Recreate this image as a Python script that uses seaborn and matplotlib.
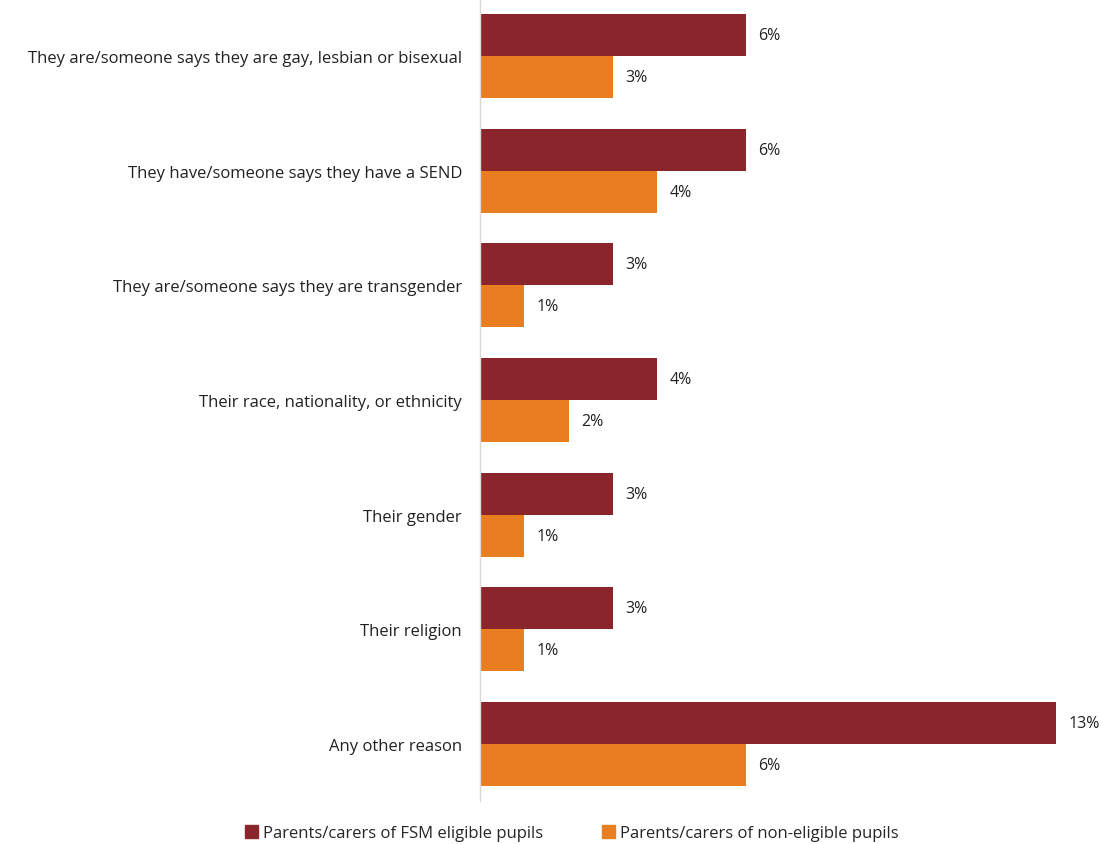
import pandas as pd
import numpy as np
import matplotlib
matplotlib.use("Agg")
import matplotlib.pyplot as plt
import seaborn as sns

reasons = [
    "They are/someone says they are gay, lesbian or bisexual",
    "They have/someone says they have a SEND",
    "They are/someone says they are transgender",
    "Their race, nationality, or ethnicity",
    "Their gender",
    "Their religion",
    "Any other reason",
]
fsm = [6, 6, 3, 4, 3, 3, 13]
non_fsm = [3, 4, 1, 2, 1, 1, 6]
groups = ["Parents/carers of FSM eligible pupils", "Parents/carers of non-eligible pupils"]

df = pd.DataFrame({
    "reason": reasons * 2,
    "pct": fsm + non_fsm,
    "group": [groups[0]] * len(reasons) + [groups[1]] * len(reasons),
})

sns.set_style("white")
plt.rcParams["font.family"] = ["Open Sans", "DejaVu Sans"]

fig = plt.figure(figsize=(11.01, 8.45), dpi=100)
ax = fig.add_axes([480 / 1101, 1 - 802 / 845, 620 / 1101, 802 / 845])

sns.barplot(data=df, y="reason", x="pct", hue="group", orient="h",
            palette=["#8B252C", "#E87E1F"], width=0.734, saturation=1,
            linewidth=0, ax=ax, legend=False)

for c in ax.containers:
    ax.bar_label(c, fmt="%d%%", padding=9, fontsize=11.5, color="#222222")

ax.set_xlim(0, 14)
ax.set_xlabel("")
ax.set_ylabel("")
ax.set_xticks([])
ax.tick_params(axis="y", length=0, pad=13, labelsize=12, labelcolor="#222222")
for s in ["top", "right", "bottom"]:
    ax.spines[s].set_visible(False)
ax.spines["left"].set_color("#d9d9d9")
ax.spines["left"].set_linewidth(1)

handles = [plt.Rectangle((0, 0), 1, 1, color=col) for col in ["#8B252C", "#E87E1F"]]
fig.legend(handles, groups, loc="center", bbox_to_anchor=(572 / 1101, 1 - 834 / 845),
           ncol=2, frameon=False, fontsize=12, handlelength=0.8, handleheight=0.8,
           handletextpad=0.3, columnspacing=3.5)

fig.savefig("out.png", dpi=100)
